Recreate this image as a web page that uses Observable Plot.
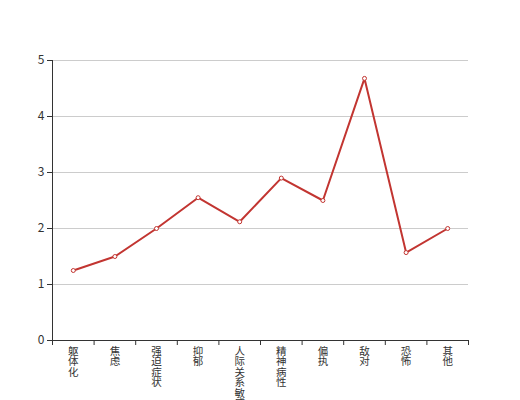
<!DOCTYPE html>
<html>
<head>
<meta charset="utf-8">
<script src="https://cdn.jsdelivr.net/npm/d3@7"></script>
<script src="https://cdn.jsdelivr.net/npm/@observablehq/plot@0.6"></script>
<style>
  html, body { margin: 0; padding: 0; background: #fff; }
  #chart svg { display: block; }
</style>
</head>
<body>
<div id="chart"></div>
<script>
const categories = ["躯体化", "焦虑", "强迫症状", "抑郁", "人际关系敏感", "精神病性", "偏执", "敌对", "恐怖", "其他"];
const values = [1.25, 1.5, 2.0, 2.55, 2.12, 2.9, 2.5, 4.68, 1.57, 2.0];
const yTicks = [0, 1, 2, 3, 4, 5];

const data = categories.map((c, i) => ({ i, pos: i + 0.5, cat: c, value: values[i] }));
const boundaries = d3.range(categories.length + 1);

const chart = Plot.plot({
  width: 520,
  height: 400,
  marginLeft: 52,
  marginRight: 52,
  marginTop: 60,
  marginBottom: 60,
  style: { fontFamily: "'Noto Sans CJK SC', 'Noto Sans', sans-serif", fontSize: "12px", color: "#333" },
  x: { type: "linear", domain: [0, categories.length], axis: null },
  y: { domain: [0, 5], axis: null },
  marks: [
    Plot.gridY(yTicks.filter(d => d > 0), { stroke: "#ccc", strokeOpacity: 1 }),
    Plot.axisY(yTicks, { tickSize: 5, tickPadding: 3, stroke: "#333", fill: "#333", fontSize: 12, label: null, tickFormat: d => String(d) }),
    Plot.axisX(boundaries, { tickSize: 5, tickFormat: () => "", stroke: "#333", label: null }),
    Plot.ruleX([0], { stroke: "#333" }),
    Plot.ruleY([0], { stroke: "#333" }),
    Plot.text(data, {
      x: "pos",
      text: d => Array.from(d.cat).join("\n"),
      frameAnchor: "bottom",
      lineAnchor: "top",
      dy: 7,
      fontSize: 10.5,
      lineHeight: 1,
      fill: "#333"
    }),
    Plot.line(data, { x: "pos", y: "value", stroke: "#c23531", strokeWidth: 2 }),
    Plot.dot(data, { x: "pos", y: "value", r: 2, stroke: "#c23531", fill: "#fff", strokeWidth: 1 })
  ]
});
document.getElementById("chart").appendChild(chart);
</script>
</body>
</html>
